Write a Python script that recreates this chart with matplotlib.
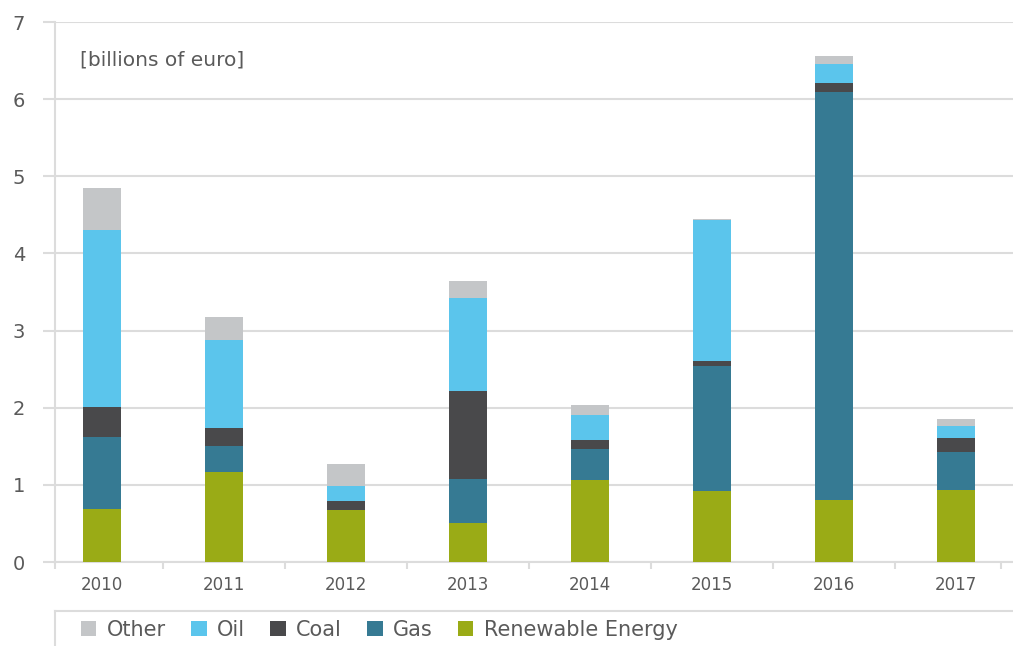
import matplotlib.pyplot as plt
from matplotlib.patches import Patch
from matplotlib.lines import Line2D
import numpy as np

# Values (billions of euro)
years = ['2010', '2011', '2012', '2013', '2014', '2015', '2016', '2017']
renewable = [0.69, 1.17, 0.67, 0.50, 1.06, 0.92, 0.81, 0.93]
gas = [0.93, 0.33, 0.00, 0.57, 0.40, 1.62, 5.28, 0.49]
coal = [0.39, 0.24, 0.12, 1.15, 0.12, 0.06, 0.12, 0.19]
oil = [2.30, 1.14, 0.19, 1.20, 0.33, 1.83, 0.24, 0.15]
other = [0.54, 0.29, 0.29, 0.22, 0.12, 0.02, 0.11, 0.10]

series = [('Renewable Energy', renewable, '#9aab16'),
          ('Gas', gas, '#367a93'),
          ('Coal', coal, '#49494b'),
          ('Oil', oil, '#5bc5ec'),
          ('Other', other, '#c4c6c8')]

grid_col = '#dcdcdc'
text_col = '#5a5a5a'

W, H = 1013, 646
fig = plt.figure(figsize=(W / 100, H / 100), dpi=100)
ax = fig.add_axes([55 / W, 84 / H, (W - 55) / W, 540 / H])

x = np.arange(len(years))
bottom = np.zeros(len(years))
for name, vals, col in series:
    ax.bar(x, vals, width=0.31, bottom=bottom, color=col, zorder=3)
    bottom += np.array(vals)

ax.set_xlim(-0.385, 7.467)
ax.set_ylim(0, 7)

# horizontal grid + outward tick stubs
ax.set_yticks(range(8))
ax.yaxis.grid(True, color=grid_col, linewidth=1.5, zorder=0)
ax.tick_params(axis='y', length=8.6, width=1.5, color=grid_col, pad=13,
               labelsize=14, labelcolor=text_col)

ax.set_xticks(x)
ax.set_xticklabels(years)
ax.set_xticks([-0.385, 0.5, 1.5, 2.5, 3.5, 4.5, 5.5, 6.5, 7.37], minor=True)
ax.tick_params(axis='x', which='major', length=0, pad=10,
               labelsize=12, labelcolor=text_col)
ax.tick_params(axis='x', which='minor', length=5, width=1.5, color=grid_col)

for s in ['top', 'right']:
    ax.spines[s].set_visible(False)
ax.spines['left'].set_color(grid_col)
ax.spines['left'].set_linewidth(1.5)
ax.spines['bottom'].set_color(grid_col)
ax.spines['bottom'].set_linewidth(1.5)

fig.text(80 / W, 1 - 60 / H, '[billions of euro]',
         fontsize=14.5, color=text_col, va='center', ha='left')

# legend box (open at the bottom / right like the original)
fig.add_artist(Line2D([55 / W, 1.0], [1 - 611 / H, 1 - 611 / H],
                      transform=fig.transFigure, color=grid_col, linewidth=1.5))
fig.add_artist(Line2D([55 / W, 55 / W], [0, 1 - 611 / H],
                      transform=fig.transFigure, color=grid_col, linewidth=1.5))

handles = [Patch(facecolor=col, label=name) for name, vals, col in series[::-1]]
fig.legend(handles=handles, loc='center left', ncol=5, frameon=False,
           bbox_to_anchor=(62 / W, 1 - 630 / H), fontsize=15,
           handlelength=0.75, handleheight=0.75, handletextpad=0.5,
           columnspacing=1.2, labelcolor=text_col)

fig.savefig('out.png', dpi=100)
